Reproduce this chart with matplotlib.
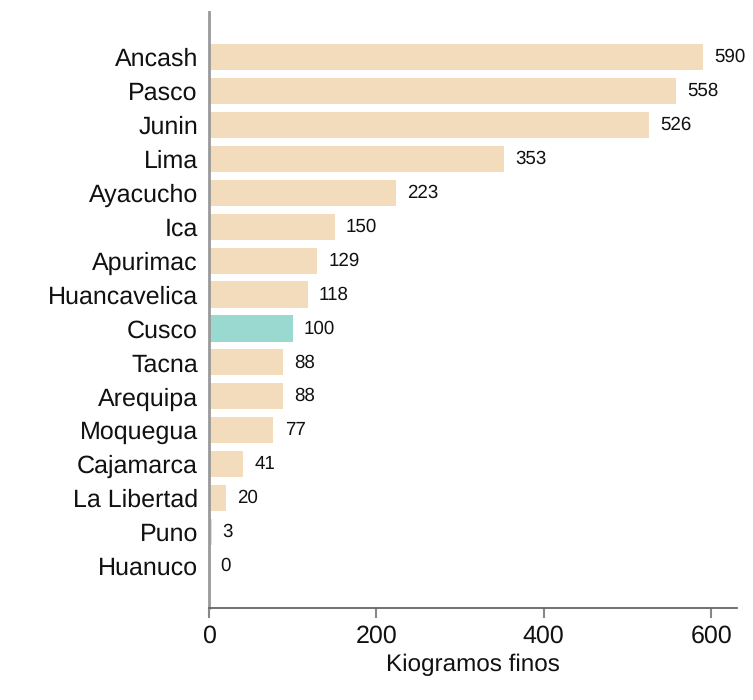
import matplotlib.pyplot as plt

# Datos por departamento
departamentos = ["Ancash", "Pasco", "Junin", "Lima", "Ayacucho", "Ica", "Apurimac",
                 "Huancavelica", "Cusco", "Tacna", "Arequipa", "Moquegua",
                 "Cajamarca", "La Libertad", "Puno", "Huanuco"]
kilos = [590, 558, 526, 353, 223, 150, 129, 118, 100, 88, 88, 77, 41, 20, 3, 0]
destacado = "Cusco"

plt.rcParams['font.family'] = ['Liberation Sans', 'DejaVu Sans']
plt.rcParams['text.hinting'] = 'no_hinting'

fig = plt.figure(figsize=(7.53, 7.00), dpi=100)
ax = fig.add_axes([0.2776, 0.1314, 0.7012, 0.8515])

colores = ["#9ad9cf" if d == destacado else "#f2dcbc" for d in departamentos]
pos = list(range(len(departamentos)))
ax.barh(pos, kilos, height=0.77, color=colores)

for p, v in zip(pos, kilos):
    ax.annotate(str(v), (v, p), xytext=(8, 0), textcoords="offset points",
                va="center", ha="left", fontsize=13.5, color="#111111")

ax.set_yticks(pos)
ax.set_yticklabels(departamentos, fontsize=18, color="#111111")
ax.set_ylim(len(departamentos) - 1 + 1.24, -1.33)
ax.set_xlim(0, 631)
ax.set_xticks([0, 200, 400, 600])
ax.tick_params(axis="x", labelsize=18, labelcolor="#111111", length=7, width=1.5,
               color="#888888", pad=5)
ax.tick_params(axis="y", length=0, pad=8)
ax.set_xlabel("Kiogramos finos", fontsize=17.5, color="#111111", labelpad=4)

for s in ["top", "right"]:
    ax.spines[s].set_visible(False)
ax.spines["left"].set_color("#999999")
ax.spines["left"].set_linewidth(2)
ax.spines["bottom"].set_color("#666666")
ax.spines["bottom"].set_linewidth(1.3)

fig.savefig("out.png", dpi=100)
